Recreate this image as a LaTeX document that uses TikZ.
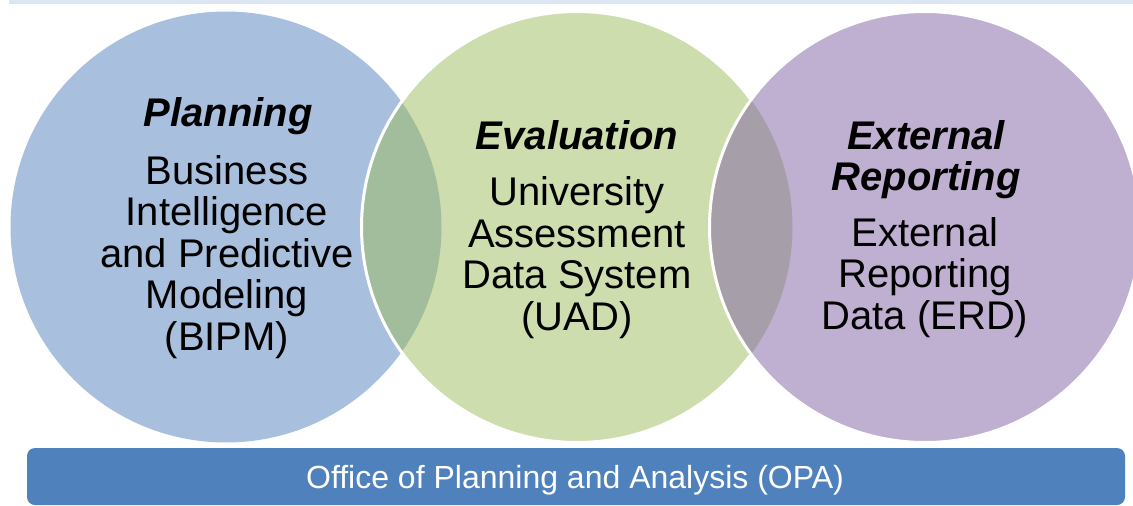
\documentclass[tikz,border=0pt]{standalone}
\usepackage{fontspec}
\setmainfont{Liberation Sans}
\definecolor{cblue}{HTML}{A8BFDE}
\definecolor{cgreen}{HTML}{CEDDAD}
\definecolor{cpurple}{HTML}{BFB0D1}
\definecolor{lensbg}{HTML}{A2BD9B}
\definecolor{lensgp}{HTML}{A69EA8}
\definecolor{cbar}{HTML}{4F81BD}
\definecolor{cband}{HTML}{DCE6F2}
\tikzset{
  disc/.style={circle, inner sep=0pt, minimum size=431pt, draw=none},
  ttl/.style={anchor=base, inner sep=0pt, align=center,
    font=\fontsize{40}{41}\selectfont\bfseries\itshape},
  body/.style={anchor=base, inner sep=0pt, align=center,
    font=\fontsize{40}{41.5}\selectfont},
}
\begin{document}
\begin{tikzpicture}[x=1pt,y=-1pt]
\useasboundingbox (0,0) rectangle (1133,506);
\clip (0,0) rectangle (1133,506);
% top band
\fill[cband] (9,0) rectangle (1133,3.5);
% circles
\node[disc, fill=cblue] (plan) at (226,227) {};
\node[disc, fill=cgreen] (eval) at (577,227) {};
\begin{scope}
  \clip (plan.center) circle[radius=215.5pt];
  \fill[lensbg] (eval.center) circle[radius=215.5pt];
\end{scope}
\draw[white, line width=3pt] (eval.center) circle[radius=215.5pt];
\node[disc, fill=cpurple] (ext) at (925,227) {};
\begin{scope}
  \clip (eval.center) circle[radius=215.5pt];
  \fill[lensgp] (ext.center) circle[radius=215.5pt];
\end{scope}
\draw[white, line width=3pt] (ext.center) circle[radius=215.5pt];
% texts (base = baseline of the last line)
\node[ttl] (plant) at (228,126) {Planning};
\node[body] (planb) at (227,350) {Business\\Intelligence\\and Predictive\\Modeling\\(BIPM)};
\node[ttl] (evalt) at (577,149) {Evaluation};
\node[body] (evalb) at (577,330) {University\\Assessment\\Data System\\(UAD)};
\node[ttl] (extt) at (926,190) {External\\Reporting};
\node[body] (extb) at (925,329) {External\\Reporting\\Data (ERD)};
% bar
\node[rectangle, rounded corners=8pt, fill=cbar, inner sep=0pt,
  minimum width=1098pt, minimum height=57pt] (bar) at (576,476.5) {};
\node[anchor=base, inner sep=0pt, text=white, font=\fontsize{32}{36}\selectfont]
  (barlabel) at (575,488) {Office of Planning and Analysis (OPA)};
\end{tikzpicture}
\end{document}
